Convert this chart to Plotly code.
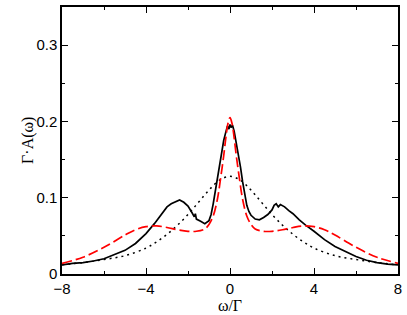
import plotly.graph_objects as go

# spectral function A(w), three curves
omega_solid = [-8, -7.5, -7, -6.5, -6, -5.5, -5, -4.5, -4, -3.6, -3.3, -3.0, -2.8, -2.6,
               -2.4, -2.2, -2.0, -1.8, -1.7, -1.65, -1.6, -1.4, -1.2, -1.0, -0.9, -0.8,
               -0.7, -0.6, -0.5, -0.4, -0.3, -0.2, -0.12, -0.05, 0, 0.05, 0.12, 0.2, 0.3,
               0.4, 0.5, 0.6, 0.7, 0.8, 0.9, 1.0, 1.2, 1.4, 1.6, 1.8, 2.0, 2.1, 2.2, 2.3,
               2.4, 2.6, 2.8, 3.0, 3.3, 3.6, 4.0, 4.5, 5.0, 5.5, 6.0, 6.5, 7.0, 7.5, 8.0]
a_solid = [0.012, 0.014, 0.015, 0.017, 0.020, 0.025, 0.031, 0.040, 0.053, 0.066, 0.077,
           0.088, 0.092, 0.095, 0.097, 0.094, 0.089, 0.080, 0.075, 0.079, 0.072, 0.069,
           0.066, 0.070, 0.078, 0.092, 0.108, 0.125, 0.142, 0.160, 0.175, 0.186, 0.194,
           0.190, 0.196, 0.192, 0.195, 0.187, 0.173, 0.158, 0.140, 0.121, 0.104, 0.090,
           0.082, 0.077, 0.072, 0.071, 0.074, 0.078, 0.084, 0.090, 0.092, 0.088, 0.091,
           0.088, 0.083, 0.079, 0.071, 0.064, 0.056, 0.045, 0.036, 0.029, 0.023, 0.018,
           0.015, 0.013, 0.012]

omega_dash = [-8, -7, -6, -5, -4.5, -4, -3.5, -3, -2.5, -2, -1.6, -1.2, -1.0, -0.8, -0.6,
              -0.45, -0.3, -0.2, -0.1, 0, 0.1, 0.2, 0.3, 0.45, 0.6, 0.8, 1.0, 1.2, 1.6, 2,
              2.5, 3, 3.5, 4, 4.5, 5, 6, 7, 8]
a_dash = [0.014, 0.022, 0.035, 0.051, 0.058, 0.062, 0.063, 0.061, 0.058, 0.056, 0.056,
          0.059, 0.065, 0.076, 0.098, 0.125, 0.155, 0.178, 0.197, 0.205, 0.197, 0.178,
          0.155, 0.125, 0.098, 0.076, 0.065, 0.059, 0.056, 0.056, 0.058, 0.061, 0.063,
          0.062, 0.058, 0.051, 0.035, 0.022, 0.014]

omega_dot = [-8, -7, -6, -5, -4, -3.5, -3, -2.5, -2, -1.5, -1, -0.5, 0,
             0.5, 1, 1.5, 2, 2.5, 3, 3.5, 4, 5, 6, 7, 8]
a_dot = [0.012, 0.015, 0.019, 0.024, 0.034, 0.042, 0.052, 0.064, 0.078, 0.094, 0.110,
         0.123, 0.128, 0.123, 0.110, 0.094, 0.078, 0.064, 0.052, 0.042, 0.034, 0.024,
         0.019, 0.015, 0.012]

serif = dict(family="Liberation Serif, Times New Roman", size=16, color="black")

fig = go.Figure()
fig.add_trace(go.Scatter(x=omega_dot, y=a_dot, mode="lines", line_shape="spline",
                         line=dict(color="black", width=1.5, dash="2px,4px")))
fig.add_trace(go.Scatter(x=omega_solid, y=a_solid, mode="lines",
                         line=dict(color="black", width=1.7)))
fig.add_trace(go.Scatter(x=omega_dash, y=a_dash, mode="lines", line_shape="spline",
                         line=dict(color="red", width=1.7, dash="10px,4px")))

axis_style = dict(showline=True, linecolor="black", linewidth=1.5, mirror="ticks",
                  ticks="inside", ticklen=6, tickwidth=1.2, tickcolor="black",
                  showgrid=False, zeroline=False,
                  tickfont=dict(family="Liberation Sans, Arial", size=15, color="black"))

fig.update_xaxes(range=[-8, 8], tickvals=[-8, -4, 0, 4, 8],
                 minor=dict(tickvals=[-6, -2, 2, 6], ticks="inside", ticklen=3,
                            tickcolor="black", tickwidth=1.2),
                 title=dict(text="ω/Γ", standoff=2, font=serif),
                 **axis_style)
fig.update_yaxes(range=[0, 0.35], tickvals=[0, 0.1, 0.2, 0.3], ticktext=["0", "0.1", "0.2", "0.3"],
                 minor=dict(tickvals=[0.05, 0.15, 0.25], ticks="inside", ticklen=3,
                            tickcolor="black", tickwidth=1.2),
                 **axis_style)

# y title sits right against the tick labels, so place it by hand
fig.add_annotation(text="Γ·A(ω)", xref="paper", yref="paper", x=-0.103, y=0.5,
                   textangle=-90, showarrow=False, xanchor="center", yanchor="middle",
                   font=serif)

fig.update_layout(width=407, height=315, showlegend=False,
                  plot_bgcolor="white", paper_bgcolor="white",
                  margin=dict(l=62, r=5, t=5, b=40))

# the page body has a default 8px margin, remove it so the figure fills the window
fig.write_html("out.html", config={"displayModeBar": False},
               post_script="document.body.style.margin='0';")
